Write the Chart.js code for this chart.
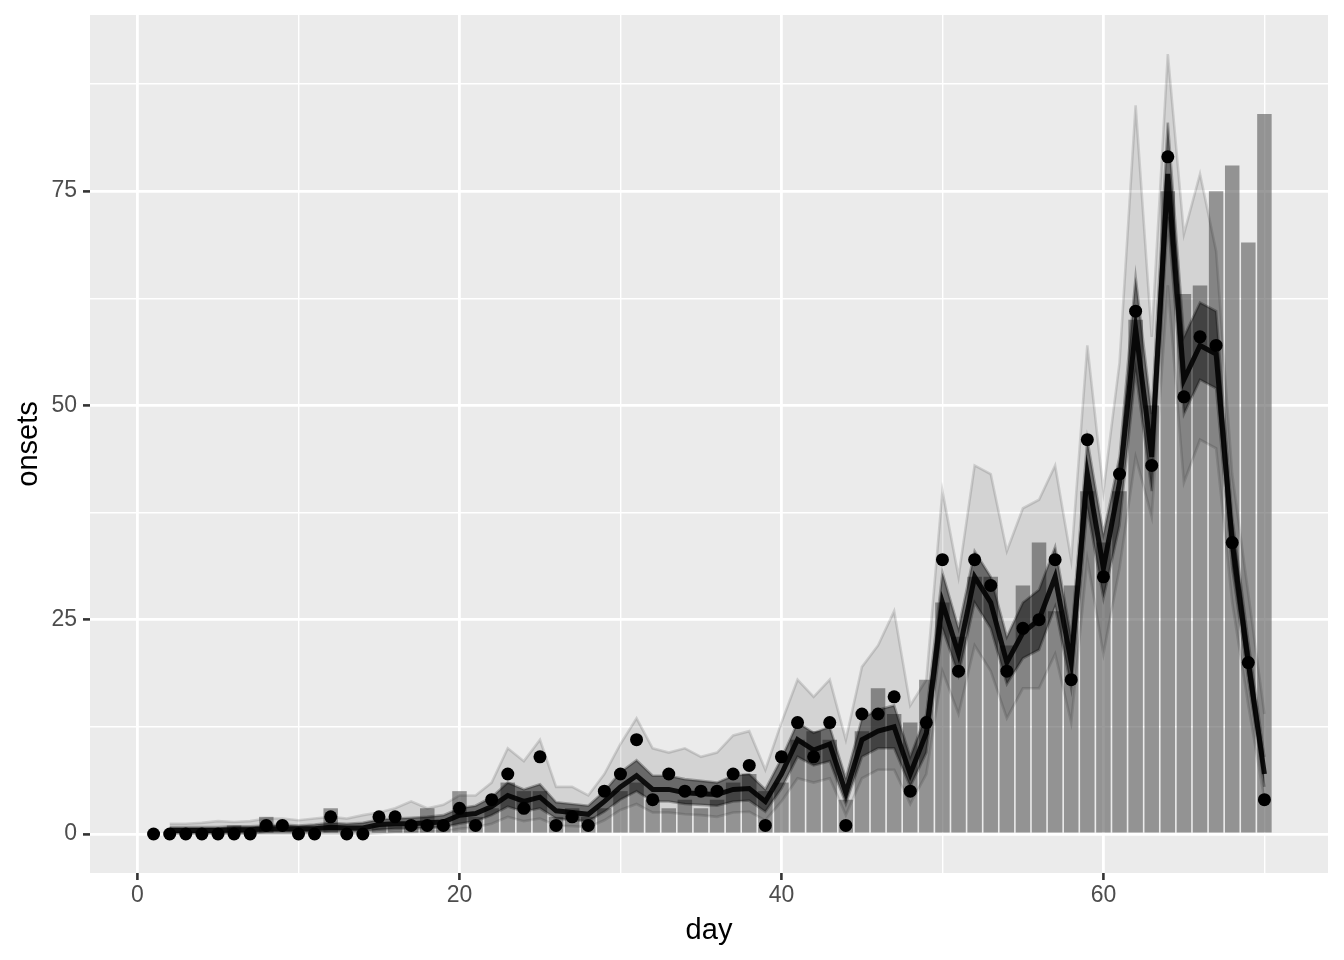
<!DOCTYPE html>
<html>
<head>
<meta charset="utf-8">
<script src="https://cdn.jsdelivr.net/npm/chart.js@4.4.1/dist/chart.umd.min.js"></script>
<style>
  html, body { margin: 0; padding: 0; background: #ffffff; }
  canvas { display: block; }
</style>
</head>
<body>
<canvas id="chart" width="1344" height="960"></canvas>
<script>
/* =========================
   DATA
========================= */
const days = [1, 2, 3, 4, 5, 6, 7, 8, 9, 10, 11, 12, 13, 14, 15, 16, 17, 18, 19, 20,
  21, 22, 23, 24, 25, 26, 27, 28, 29, 30, 31, 32, 33, 34, 35, 36, 37, 38, 39, 40,
  41, 42, 43, 44, 45, 46, 47, 48, 49, 50, 51, 52, 53, 54, 55, 56, 57, 58, 59, 60,
  61, 62, 63, 64, 65, 66, 67, 68, 69, 70];

// observed onsets (points)
const onsets = [0, 0, 0, 0, 0, 0, 0, 1, 1, 0, 0, 2, 0, 0, 2, 2, 1, 1, 1, 3,
  1, 4, 7, 3, 9, 1, 2, 1, 5, 7, 11, 4, 7, 5, 5, 5, 7, 8, 1, 9,
  13, 9, 13, 1, 14, 14, 16, 5, 13, 32, 19, 32, 29, 19, 24, 25, 32, 18, 46, 30,
  42, 61, 43, 79, 51, 58, 57, 34, 20, 4];

// bar heights
const bars = [0, 0, 0, 0, 0, 1, 0, 2, 0, 0, 0, 3, 0, 0, 1, 1, 1, 3, 1, 5,
  2, 3, 6, 5, 5, 2, 3, 2, 3, 5, 6, 4, 3, 4, 3, 4, 6, 7, 5, 6,
  11, 12, 11, 4, 12, 17, 14, 13, 18, 27, 23, 30, 30, 22, 29, 34, 26, 29, 40, 34,
  40, 60, 50, 75, 63, 64, 75, 78, 69, 84];

// simulated trajectories, read off the picture as a centre line and two bands
const simDays = [2, 3, 4, 5, 6, 7, 8, 9, 10, 11, 12, 13, 14, 15, 16, 17, 18, 19, 20,
  21, 22, 23, 24, 25, 26, 27, 28, 29, 30, 31, 32, 33, 34, 35, 36, 37, 38, 39, 40,
  41, 42, 43, 44, 45, 46, 47, 48, 49, 50, 51, 52, 53, 54, 55, 56, 57, 58, 59, 60,
  61, 62, 63, 64, 65, 66, 67, 68, 69, 70];

const simMedian = [0.4, 0.4, 0.4, 0.4, 0.5, 0.5, 0.6, 0.6, 0.6,
  0.6, 0.8, 0.7, 0.7, 1.1, 1.2, 1.2, 1.3, 1.4, 2.2,
  2.4, 3.2, 4.5, 3.8, 4.3, 2.7, 2.5, 2.3, 3.8, 5.5,
  6.8, 5.2, 5.2, 4.8, 4.7, 4.6, 5.2, 5.3, 3.8, 7.0,
  11, 9.8, 10.5, 4.8, 11, 12, 12.5, 7, 11.8, 27,
  21, 30, 27, 20, 23.5, 25, 30, 20, 42, 31,
  41, 59, 44, 77, 53, 57, 56, 34, 20, 7];

const simInnerLow = [0.1, 0.1, 0.1, 0.1, 0.1, 0.1, 0.2, 0.2, 0.2,
  0.2, 0.3, 0.3, 0.3, 0.5, 0.6, 0.6, 0.7, 0.8, 1.2,
  1.5, 2.2, 3.2, 2.6, 3.0, 1.8, 1.6, 1.5, 2.6, 4.0,
  5.0, 3.8, 3.8, 3.5, 3.4, 3.3, 3.8, 3.9, 2.6, 5.3,
  9, 8, 8.5, 3.5, 9, 10, 10, 5.5, 9.5, 24,
  18.5, 27, 24, 17.5, 20.5, 21.5, 26.5, 17, 38, 27.5,
  36, 54, 40, 72, 49, 53, 52, 31, 18, 5.5];

const simInnerHigh = [0.8, 0.8, 0.8, 0.8, 0.9, 0.9, 1.0, 1.1, 1.0,
  1.1, 1.3, 1.2, 1.3, 1.7, 1.8, 1.9, 2.0, 2.2, 3.0,
  3.3, 4.3, 6.0, 5.2, 5.8, 3.7, 3.5, 3.3, 5.0, 7.2,
  8.6, 6.8, 6.8, 6.4, 6.2, 6.0, 6.8, 7.0, 5.2, 8.8,
  13, 11.8, 12.5, 6.5, 13.5, 14.5, 15, 9, 14, 30.5,
  24, 33, 30, 23, 27, 28.5, 33.5, 23, 46, 35,
  44, 65, 49, 83, 58, 62, 61, 37, 22.5, 9];

const simOuterLow = [0, 0, 0, 0, 0, 0, 0, 0, 0,
  0, 0, 0, 0, 0.1, 0.2, 0.2, 0.3, 0.3, 0.6,
  0.8, 1.2, 2.0, 1.5, 1.8, 1.0, 0.9, 0.8, 1.6, 2.8,
  3.5, 2.5, 2.5, 2.3, 2.2, 2.0, 2.5, 2.6, 1.6, 3.8,
  6.5, 6, 6.5, 2.2, 6.5, 7.5, 7.5, 3.5, 7, 19,
  14, 22, 19, 13.5, 17, 17, 21, 13, 32, 21,
  31, 44, 37, 64, 41, 46, 45, 27, 15, 4];

const simOuterHigh = [1.2, 1.2, 1.3, 1.5, 1.4, 1.5, 1.8, 1.8, 1.6,
  1.8, 2.0, 1.8, 2.2, 2.5, 3.0, 3.8, 3.0, 3.4, 4.5,
  4.5, 6, 10, 8.5, 11, 5.5, 5.5, 4.5, 7, 10.5,
  13.5, 10, 9.5, 10, 9, 9.5, 11.5, 12, 7.5, 13,
  18, 16, 18, 11, 19.5, 22, 26, 15, 18, 40,
  30, 43, 42, 33, 38, 39, 43, 32, 57, 40,
  55, 85, 58, 91, 70, 77, 68, 42, 28, 14];

const xTicks = [0, 10, 20, 30, 40, 50, 60, 70];
const xLabels = ['0', '', '20', '', '40', '', '60', ''];
const yTicks = [0, 12.5, 25, 37.5, 50, 62.5, 75, 87.5];
const yLabels = ['0', '', '25', '', '50', '', '75', ''];

const pts = (xs, ys) => xs.map((x, i) => ({ x: x, y: ys[i] }));

/* =========================
   PANEL BACKGROUND
========================= */
const panelBg = {
  id: 'panelBg',
  beforeDraw(chart) {
    const a = chart.chartArea;
    chart.ctx.save();
    chart.ctx.fillStyle = '#EBEBEB';
    chart.ctx.fillRect(a.left, a.top, a.right - a.left, a.bottom - a.top);
    chart.ctx.restore();
  }
};

const FONT = '"Liberation Sans", Arial, Helvetica, sans-serif';

function gridStyle(labels) {
  return {
    color: '#FFFFFF',
    lineWidth: (c) => (labels[c.index] !== '' ? 2.8 : 1.4),
    drawTicks: true,
    tickLength: 7,
    tickWidth: 2.6,
    tickColor: (c) => (labels[c.index] !== '' ? '#333333' : 'rgba(0,0,0,0)')
  };
}

/* =========================
   CHART
========================= */
const ctx = document.getElementById('chart').getContext('2d');
const chart = new Chart(ctx, {
  type: 'bar',
  data: {
    datasets: [
      {
        type: 'line',
        label: 'observed',
        data: pts(days, onsets),
        showLine: false,
        pointRadius: 6.5,
        pointBackgroundColor: '#000000',
        pointBorderWidth: 0,
        order: 0
      },
      {
        type: 'line',
        label: 'median',
        data: pts(simDays, simMedian),
        borderColor: 'rgba(0,0,0,0.88)',
        borderWidth: 5,
        pointRadius: 0,
        tension: 0,
        order: 1
      },
      {
        type: 'line',
        label: 'inner high',
        data: pts(simDays, simInnerHigh),
        borderColor: 'rgba(0,0,0,0.28)',
        borderWidth: 2.6,
        backgroundColor: 'rgba(0,0,0,0.5)',
        fill: 3,
        pointRadius: 0,
        tension: 0,
        order: 2
      },
      {
        type: 'line',
        label: 'inner low',
        data: pts(simDays, simInnerLow),
        borderColor: 'rgba(0,0,0,0.28)',
        borderWidth: 2.6,
        pointRadius: 0,
        tension: 0,
        order: 2
      },
      {
        type: 'line',
        label: 'outer high',
        data: pts(simDays, simOuterHigh),
        borderColor: 'rgba(0,0,0,0.13)',
        borderWidth: 2.6,
        backgroundColor: 'rgba(0,0,0,0.1)',
        fill: 5,
        pointRadius: 0,
        tension: 0,
        order: 3
      },
      {
        type: 'line',
        label: 'outer low',
        data: pts(simDays, simOuterLow),
        borderColor: 'rgba(0,0,0,0.13)',
        borderWidth: 2.6,
        pointRadius: 0,
        tension: 0,
        order: 3
      },
      {
        type: 'bar',
        label: 'onsets',
        data: pts(days, bars),
        backgroundColor: 'rgba(89,89,89,0.6)',
        borderWidth: 0,
        barPercentage: 0.9,
        categoryPercentage: 1.0,
        order: 4
      }
    ]
  },
  options: {
    responsive: false,
    animation: false,
    devicePixelRatio: 1,
    layout: { padding: { left: 0, right: 16, top: 15, bottom: 0 } },
    plugins: {
      legend: { display: false },
      tooltip: { enabled: false }
    },
    scales: {
      x: {
        type: 'linear',
        min: -2.95,
        max: 73.95,
        offset: false,
        afterBuildTicks: (scale) => { scale.ticks = xTicks.map(v => ({ value: v })); },
        afterFit: (scale) => {
          scale.height = 87;
          scale.paddingLeft = 0;
          scale.paddingRight = 0;
        },
        ticks: {
          autoSkip: false,
          maxRotation: 0,
          padding: 2,
          color: '#4D4D4D',
          font: { family: FONT, size: 23 },
          callback: (value, i) => xLabels[i]
        },
        grid: Object.assign({ offset: false }, gridStyle(xLabels)),
        border: { display: false },
        title: {
          display: true,
          text: 'day',
          color: '#000000',
          font: { family: FONT, size: 29 },
          padding: { top: 0, bottom: 12 }
        }
      },
      y: {
        type: 'linear',
        min: -4.55,
        max: 95.55,
        afterBuildTicks: (scale) => { scale.ticks = yTicks.map(v => ({ value: v })); },
        afterFit: (scale) => {
          scale.width = 90;
          scale.paddingTop = 0;
          scale.paddingBottom = 0;
        },
        ticks: {
          autoSkip: false,
          padding: 6,
          color: '#4D4D4D',
          font: { family: FONT, size: 23 },
          callback: (value, i) => yLabels[i]
        },
        grid: gridStyle(yLabels),
        border: { display: false },
        title: {
          display: true,
          text: 'onsets',
          color: '#000000',
          font: { family: FONT, size: 29 },
          padding: { top: 12, bottom: 0 }
        }
      }
    }
  },
  plugins: [panelBg]
});
</script>
</body>
</html>
